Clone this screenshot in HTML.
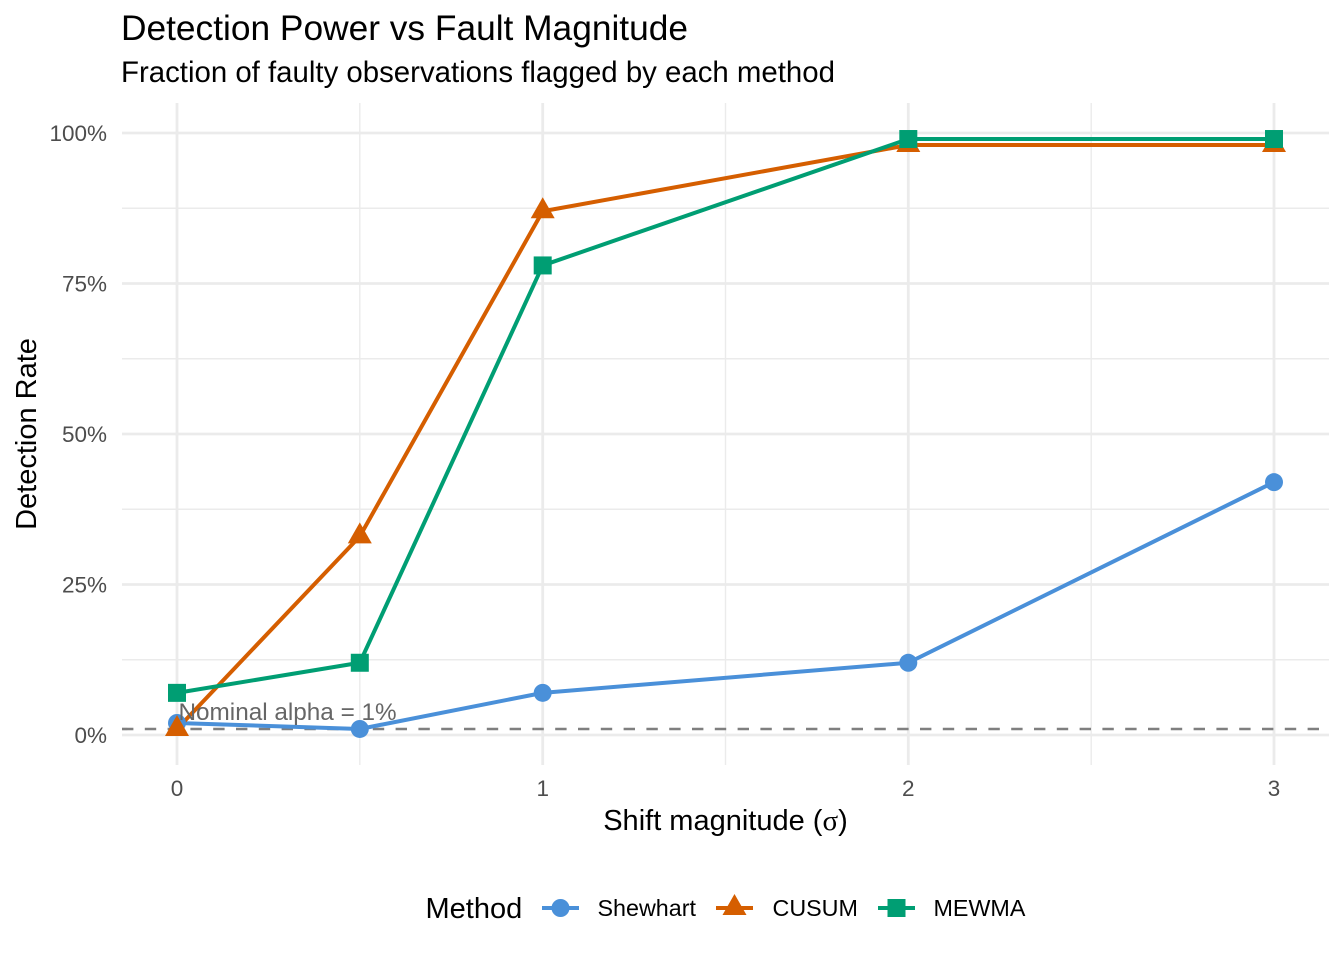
<!DOCTYPE html>
<html>
<head>
<meta charset="utf-8">
<style>
html,body{margin:0;padding:0;background:#ffffff;}
svg{display:block;}
text{font-family:"Liberation Sans","DejaVu Sans",sans-serif;}
</style>
</head>
<body>
<svg width="1344" height="960" viewBox="0 0 1344 960" xmlns="http://www.w3.org/2000/svg">
<rect x="0" y="0" width="1344" height="960" fill="#ffffff"/>

<!-- minor grid -->
<g stroke="#EBEBEB" stroke-width="1.4" fill="none">
<line x1="122" x2="1329" y1="659.75" y2="659.75"/>
<line x1="122" x2="1329" y1="509.25" y2="509.25"/>
<line x1="122" x2="1329" y1="358.75" y2="358.75"/>
<line x1="122" x2="1329" y1="208.25" y2="208.25"/>
<line x1="359.8" x2="359.8" y1="103" y2="765"/>
<line x1="725.5" x2="725.5" y1="103" y2="765"/>
<line x1="1091.2" x2="1091.2" y1="103" y2="765"/>
</g>
<!-- major grid -->
<g stroke="#EBEBEB" stroke-width="2.8" fill="none">
<line x1="122" x2="1329" y1="735" y2="735"/>
<line x1="122" x2="1329" y1="584.5" y2="584.5"/>
<line x1="122" x2="1329" y1="434" y2="434"/>
<line x1="122" x2="1329" y1="283.5" y2="283.5"/>
<line x1="122" x2="1329" y1="133" y2="133"/>
<line x1="177" x2="177" y1="103" y2="765"/>
<line x1="542.7" x2="542.7" y1="103" y2="765"/>
<line x1="908.3" x2="908.3" y1="103" y2="765"/>
<line x1="1274" x2="1274" y1="103" y2="765"/>
</g>

<!-- nominal alpha dashed line -->
<line x1="122" x2="1329" y1="729" y2="729" stroke="#7F7F7F" stroke-width="2.6" stroke-dasharray="11.4,11.4"/>

<!-- series lines -->
<g fill="none" stroke-width="4" stroke-linejoin="round" stroke-linecap="butt">
<polyline stroke="#4A90D9" points="177,722.96 359.8,728.98 542.7,692.86 908.3,662.76 1274,482.16"/>
<polyline stroke="#D55E00" points="177,728.98 359.8,536.34 542.7,211.26 908.3,145.04 1274,145.04"/>
<polyline stroke="#009E73" points="177,692.86 359.8,662.76 542.7,265.44 908.3,139.02 1274,139.02"/>
</g>

<!-- Shewhart points -->
<g fill="#4A90D9">
<circle cx="177" cy="722.96" r="9"/>
<circle cx="359.8" cy="728.98" r="9"/>
<circle cx="542.7" cy="692.86" r="9"/>
<circle cx="908.3" cy="662.76" r="9"/>
<circle cx="1274" cy="482.16" r="9"/>
</g>
<!-- CUSUM points -->
<g fill="#D55E00">
<polygon points="177,714.98 189,735.98 165,735.98"/>
<polygon points="359.8,522.34 371.8,543.34 347.8,543.34"/>
<polygon points="542.7,197.26 554.7,218.26 530.7,218.26"/>
<polygon points="908.3,131.04 920.3,152.04 896.3,152.04"/>
<polygon points="1274,131.04 1286,152.04 1262,152.04"/>
</g>
<!-- MEWMA points -->
<g fill="#009E73">
<rect x="168" y="683.86" width="18" height="18"/>
<rect x="350.8" y="653.76" width="18" height="18"/>
<rect x="533.7" y="256.44" width="18" height="18"/>
<rect x="899.3" y="130.02" width="18" height="18"/>
<rect x="1265" y="130.02" width="18" height="18"/>
</g>

<!-- annotation -->
<text x="178.5" y="720" font-size="24.3" fill="#666666">Nominal alpha = 1%</text>

<!-- y tick labels -->
<g font-size="22.5" fill="#4D4D4D" text-anchor="end">
<text x="107" y="743">0%</text>
<text x="107" y="592.5">25%</text>
<text x="107" y="442">50%</text>
<text x="107" y="291.5">75%</text>
<text x="107" y="141">100%</text>
</g>
<!-- x tick labels -->
<g font-size="22.5" fill="#4D4D4D" text-anchor="middle">
<text x="177" y="796">0</text>
<text x="542.7" y="796">1</text>
<text x="908.3" y="796">2</text>
<text x="1274" y="796">3</text>
</g>

<!-- axis titles -->
<text x="725.5" y="830" font-size="29" fill="#000000" text-anchor="middle">Shift magnitude (<tspan font-family="Liberation Serif, serif">σ</tspan>)</text>
<text transform="translate(36,434) rotate(-90)" font-size="29" fill="#000000" text-anchor="middle">Detection Rate</text>

<!-- title & subtitle -->
<text x="121" y="40" font-size="35.3" fill="#000000">Detection Power vs Fault Magnitude</text>
<text x="121" y="82" font-size="29.4" fill="#000000">Fraction of faulty observations flagged by each method</text>

<!-- legend -->
<text x="425.5" y="918" font-size="29" fill="#000000">Method</text>
<line x1="542" x2="579" y1="908" y2="908" stroke="#4A90D9" stroke-width="4"/>
<circle cx="560.5" cy="908" r="9" fill="#4A90D9"/>
<text x="597.5" y="916" font-size="23.3" fill="#000000">Shewhart</text>

<line x1="716" x2="753" y1="908" y2="908" stroke="#D55E00" stroke-width="4"/>
<polygon points="734.5,894 746.5,915 722.5,915" fill="#D55E00"/>
<text x="772.5" y="916" font-size="23.3" fill="#000000">CUSUM</text>

<line x1="878" x2="915" y1="908" y2="908" stroke="#009E73" stroke-width="4"/>
<rect x="887.5" y="899" width="18" height="18" fill="#009E73"/>
<text x="933.5" y="916" font-size="23.3" fill="#000000">MEWMA</text>
</svg>
</body>
</html>
